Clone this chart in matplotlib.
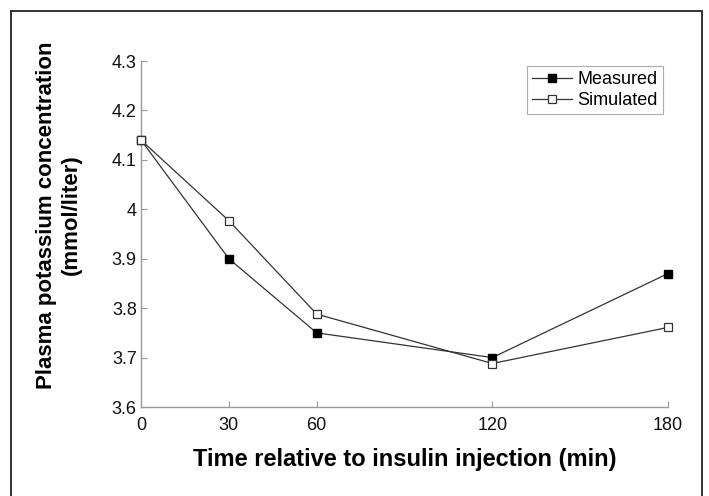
import matplotlib
matplotlib.use("Agg")
import matplotlib.pyplot as plt
from matplotlib.patches import Rectangle

plt.rcParams['font.family'] = ['Liberation Sans', 'DejaVu Sans']

time_min = [0, 30, 60, 120, 180]
measured = [4.14, 3.90, 3.75, 3.70, 3.87]
simulated = [4.14, 3.977, 3.788, 3.688, 3.761]
x_ticks = [0, 30, 60, 120, 180]
y_ticks = [3.6, 3.7, 3.8, 3.9, 4.0, 4.1, 4.2, 4.3]
y_tick_labels = ['3.6', '3.7', '3.8', '3.9', '4', '4.1', '4.2', '4.3']

W, H = 709, 496
fig = plt.figure(figsize=(W / 100, H / 100), dpi=100)
ax = fig.add_axes([141 / W, 1 - 407 / H, (668 - 141) / W, (407 - 61) / H])

line_col = '#333333'
ax.plot(time_min, measured, '-', color=line_col, lw=0.9, marker='s', ms=5.5,
        mfc='black', mec='black', label='Measured', clip_on=False, zorder=3)
ax.plot(time_min, simulated, '-', color=line_col, lw=0.9, marker='s', ms=5.5,
        mfc='white', mec=line_col, mew=0.9, label='Simulated', clip_on=False, zorder=3)

ax.set_xlim(0, 180)
ax.set_ylim(3.6, 4.3)
ax.set_xticks(x_ticks)
ax.set_xticklabels([str(t) for t in x_ticks])
ax.set_yticks(y_ticks)
ax.set_yticklabels(y_tick_labels)

for s in ['top', 'right']:
    ax.spines[s].set_visible(False)
for s in ['left', 'bottom']:
    ax.spines[s].set_color('#999999')
    ax.spines[s].set_linewidth(1.0)
ax.tick_params(direction='in', length=4, width=0.8, color='#999999',
               labelsize=13, labelcolor='#111111')
ax.tick_params(axis='y', pad=3)
ax.tick_params(axis='x', pad=7)

ax.set_xlabel('Time relative to insulin injection (min)', fontsize=17,
              fontweight='bold', labelpad=10)
fig.text(59 / W, 1 - 215 / H, 'Plasma potassium concentration\n(mmol/liter)',
         rotation=90, ha='center', va='center', fontsize=16, fontweight='bold',
         linespacing=1.2)

leg = ax.legend(loc='upper right', bbox_to_anchor=(663 / W, 1 - 66 / H),
                bbox_transform=fig.transFigure, fontsize=13, frameon=True,
                fancybox=False, edgecolor='#999999', handlelength=2.2,
                handletextpad=0.3, borderpad=0.3, labelspacing=0.2,
                borderaxespad=0)
leg.get_frame().set_linewidth(0.8)

fig.patches.append(Rectangle((11 / W, -0.1), (702 - 11) / W, 1.1 - 11 / H,
                             transform=fig.transFigure, fill=False,
                             edgecolor='#222222', linewidth=1.3))

fig.savefig('out.png', dpi=100, facecolor='white')
